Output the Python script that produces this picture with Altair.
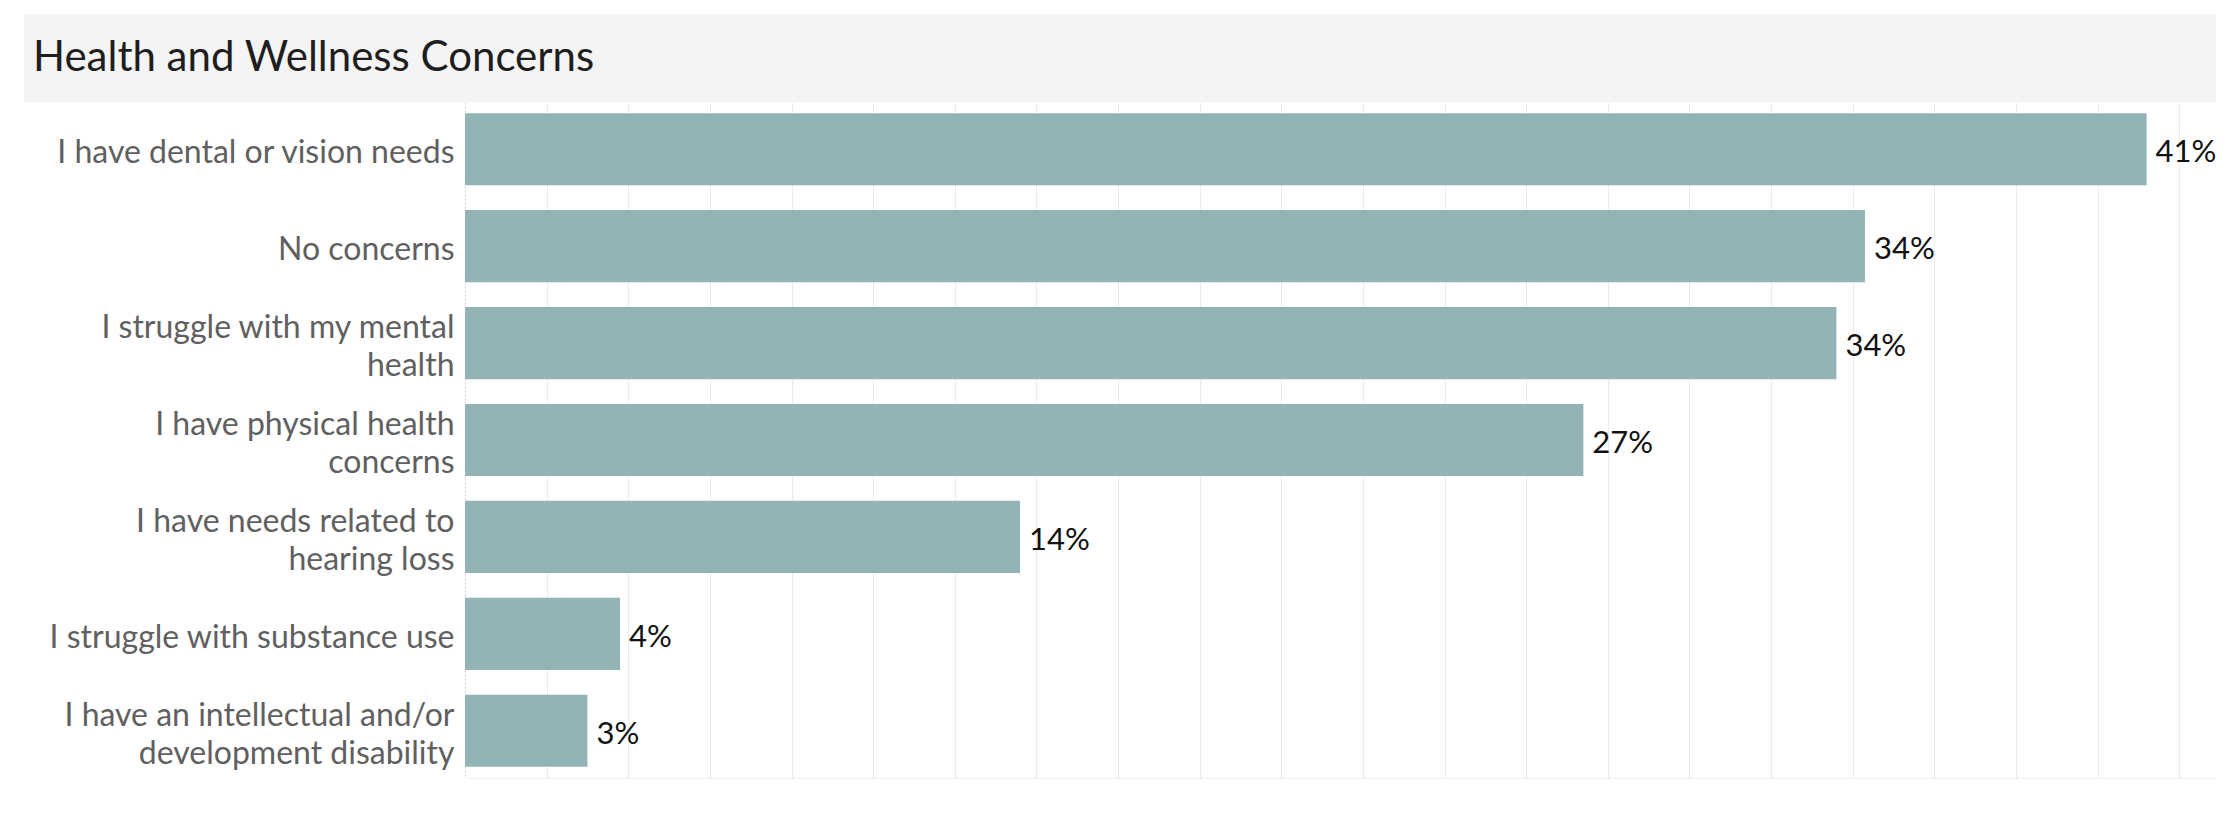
import altair as alt
import pandas as pd

# ---- data ----
categories = [
    "I have dental or vision needs",
    "No concerns",
    "I struggle with my mental|health",
    "I have physical health|concerns",
    "I have needs related to|hearing loss",
    "I struggle with substance use",
    "I have an intellectual and/or|development disability",
]
shares = [0.412, 0.343, 0.336, 0.274, 0.136, 0.038, 0.030]
grid_ticks = [0.02, 0.04, 0.06, 0.08, 0.10, 0.12, 0.14, 0.16, 0.18, 0.20,
              0.22, 0.24, 0.26, 0.28, 0.30, 0.32, 0.34, 0.36, 0.38, 0.40, 0.42]
title_text = ["Health and Wellness Concerns"]

df = pd.DataFrame({"concern": categories, "share": shares})

PLOT_W = 1751
PLOT_H = 676
FONT = "Lato"

x_scale = alt.Scale(domain=[0, 0.429], nice=False, zero=True)
y_scale = alt.Scale(paddingInner=0.255, paddingOuter=0.115)

base = alt.Chart(df)

bars = base.mark_bar(color="#93b4b6").encode(
    y=alt.Y(
        "concern:N",
        sort=categories,
        scale=y_scale,
        axis=alt.Axis(
            title=None,
            labelExpr="split(datum.label, '|')",
            labelFont=FONT,
            labelFontSize=32,
            labelColor="#606060",
            labelPadding=11,
            labelLimit=600,
            labelLineHeight=38,
            labelOffset={
                "condition": {"test": "indexof(datum.value, '|') >= 0", "value": -15},
                "value": 4,
            },
            ticks=False,
            domain=True,
            domainColor="#d8cfcf",
            domainDash=[2, 2],
            domainWidth=1,
            grid=False,
        ),
    ),
    x=alt.X(
        "share:Q",
        scale=x_scale,
        axis=alt.Axis(
            title=None,
            values=grid_ticks,
            labels=False,
            ticks=False,
            domain=True,
            domainColor="#efefef",
            grid=True,
            gridColor="#ebebeb",
            gridWidth=1,
        ),
    ),
)

labels = base.mark_text(
    align="left", baseline="middle", dx=9, dy=4, font=FONT, fontSize=31, color="#111111"
).encode(
    y=alt.Y("concern:N", sort=categories, scale=y_scale),
    x=alt.X("share:Q", scale=x_scale),
    text=alt.Text("share:Q", format=".0%"),
)

band = alt.Chart(pd.DataFrame({"t": title_text})).mark_rect(color="#f4f4f4").encode(
    x=alt.value(-441),
    x2=alt.value(PLOT_W + 20),
    y=alt.value(-88),
    y2=alt.value(0),
)

title = alt.Chart(pd.DataFrame({"t": title_text})).mark_text(
    align="left", baseline="middle", font=FONT, fontSize=42, color="#1e1e1e"
).encode(
    x=alt.value(-432),
    y=alt.value(-44),
    text="t:N",
)

chart = (
    alt.layer(band, title, bars, labels)
    .properties(
        width=PLOT_W,
        height=PLOT_H,
        autosize=alt.AutoSizeParams(type="none"),
        padding={"left": 457, "top": 94, "right": 0, "bottom": 30},
    )
    .configure_view(stroke=None)
)

chart.save("out.html", embed_options={"renderer": "svg", "actions": False})
